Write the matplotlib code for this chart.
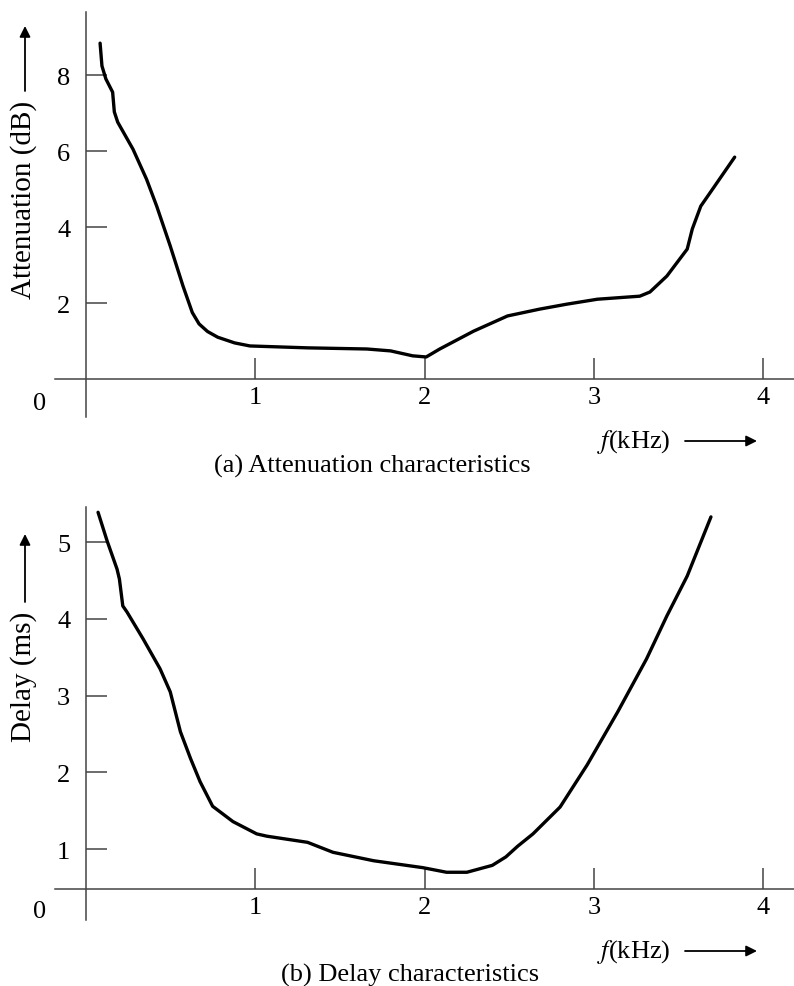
import matplotlib.pyplot as plt
from matplotlib.patches import FancyArrowPatch

plt.rcParams['font.family'] = ['Liberation Serif', 'DejaVu Serif']
plt.rcParams['mathtext.fontset'] = 'stix'

# (a) attenuation curve
freq_att = [0.086, 0.097, 0.12, 0.16, 0.17, 0.19, 0.28, 0.36, 0.42, 0.50, 0.575,
            0.63, 0.67, 0.72, 0.78, 0.88, 0.97, 1.31, 1.66, 1.80, 1.93, 2.01,
            2.09, 2.29, 2.49, 2.68, 2.84, 3.02, 3.27, 3.33, 3.43, 3.55, 3.58,
            3.63, 3.70, 3.83]
atten_db = [8.84, 8.24, 7.90, 7.55, 7.03, 6.76, 6.05, 5.26, 4.55, 3.50, 2.45,
            1.75, 1.45, 1.25, 1.10, 0.95, 0.87, 0.82, 0.79, 0.74, 0.61, 0.58,
            0.79, 1.26, 1.66, 1.84, 1.97, 2.10, 2.18, 2.29, 2.71, 3.42, 3.95,
            4.55, 5.00, 5.84]

# (b) delay curve
freq_del = [0.074, 0.127, 0.186, 0.20, 0.22, 0.245, 0.34, 0.44, 0.50, 0.56, 0.62,
            0.676, 0.75, 0.87, 1.01, 1.07, 1.31, 1.46, 1.70, 1.99, 2.13, 2.25,
            2.40, 2.48, 2.55, 2.64, 2.80, 2.96, 3.14, 3.31, 3.43, 3.55, 3.69]
delay_ms = [5.39, 5.02, 4.65, 4.52, 4.17, 4.09, 3.74, 3.35, 3.05, 2.53, 2.18,
            1.88, 1.56, 1.36, 1.20, 1.17, 1.09, 0.96, 0.85, 0.76, 0.70, 0.70,
            0.79, 0.90, 1.04, 1.20, 1.55, 2.10, 2.79, 3.48, 4.04, 4.56, 5.33]

x_ticks = [1, 2, 3, 4]
att_ticks = [2, 4, 6, 8]
del_ticks = [1, 2, 3, 4, 5]

W, H = 794, 987
fig = plt.figure(figsize=(W / 100, H / 100), dpi=100)


def fx(px):
    return px / W


def fy(py):
    return 1 - py / H


def setup(ax, xlim, ylim, xaxis_y, yticks):
    ax.set_xlim(*xlim)
    ax.set_ylim(*ylim)
    for s in ['top', 'right']:
        ax.spines[s].set_visible(False)
    ax.spines['left'].set_position(('data', 0))
    ax.spines['bottom'].set_position(('data', xaxis_y))
    for s in ['left', 'bottom']:
        ax.spines[s].set_color('#444444')
        ax.spines[s].set_linewidth(1.1)
    ax.set_xticks(x_ticks)
    ax.set_yticks(yticks)
    ax.tick_params(direction='in', length=15, width=1.1, color='#444444',
                   labelsize=19)
    ax.tick_params(axis='x', pad=5)
    ax.tick_params(axis='y', pad=11)
    ax.patch.set_alpha(0)


ax1 = fig.add_axes([fx(55), fy(418), fx(739), 405 / H])
setup(ax1, (-0.18, 4.18), (-1.0, 9.66), 0, att_ticks)
ax1.plot(freq_att, atten_db, color='black', lw=2.4,
         solid_capstyle='round', solid_joinstyle='round')

ax2 = fig.add_axes([fx(55), fy(921), fx(739), 413 / H])
setup(ax2, (-0.18, 4.18), (0.078, 5.459), 0.48, del_ticks)
ax2.plot(freq_del, delay_ms, color='black', lw=2.4,
         solid_capstyle='round', solid_joinstyle='round')

# origin labels
fig.text(fx(40), fy(404), '0', fontsize=19, ha='center', va='center')
fig.text(fx(40), fy(912), '0', fontsize=19, ha='center', va='center')

arrow = dict(arrowstyle='-|>', lw=1.3, color='black', mutation_scale=16,
             shrinkA=0, shrinkB=0)

# y labels with arrows
fig.text(fx(24), fy(200), 'Attenuation (dB)', fontsize=21, rotation=90,
         ha='center', va='center')
fig.patches.append(FancyArrowPatch(
    (fx(25), fy(92)), (fx(25), fy(27)), transform=fig.transFigure, **arrow))
fig.text(fx(24), fy(677), 'Delay (ms)', fontsize=21, rotation=90,
         ha='center', va='center')
fig.patches.append(FancyArrowPatch(
    (fx(25), fy(603)), (fx(25), fy(535)), transform=fig.transFigure, **arrow))

# x labels with arrows
for yl in [442, 952]:
    fig.text(fx(597), fy(yl), r'$f$(kHz)', fontsize=19, ha='left', va='center')
    fig.patches.append(FancyArrowPatch(
        (fx(685), fy(yl)), (fx(757), fy(yl)), transform=fig.transFigure, **arrow))

fig.text(fx(372), fy(466), '(a) Attenuation characteristics', fontsize=19,
         ha='center', va='center')
fig.text(fx(410), fy(975), '(b) Delay characteristics', fontsize=19,
         ha='center', va='center')

plt.savefig('out.png', dpi=100)
